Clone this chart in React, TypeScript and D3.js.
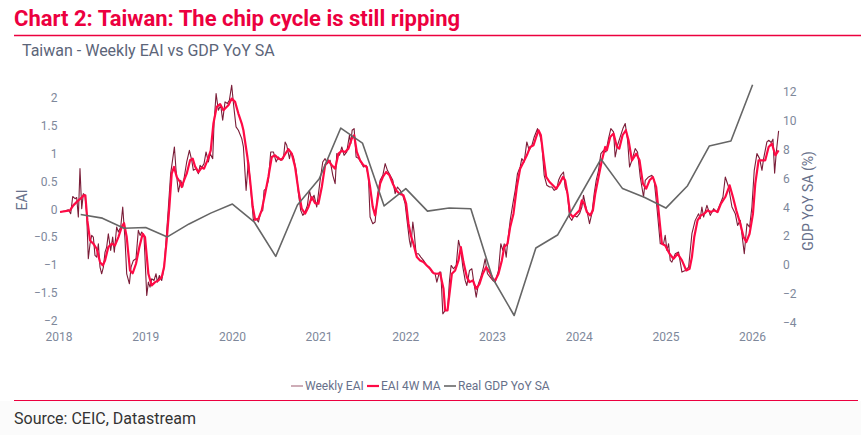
import React from "react";
import * as d3 from "d3";

// ---- Data ----
const weeklyDates = [
  2018.012, 2018.069, 2018.108, 2018.135, 2018.158, 2018.185, 2018.204, 2018.223, 2018.242, 2018.262,
  2018.281, 2018.3, 2018.319, 2018.338, 2018.358, 2018.377, 2018.396, 2018.415, 2018.435, 2018.454,
  2018.473, 2018.492, 2018.512, 2018.531, 2018.55, 2018.569, 2018.596, 2018.619, 2018.638, 2018.665,
  2018.685, 2018.712, 2018.735, 2018.762, 2018.781, 2018.812, 2018.831, 2018.858, 2018.888, 2018.915,
  2018.935, 2018.954, 2018.981, 2019.012, 2019.031, 2019.05, 2019.069, 2019.096, 2019.119, 2019.135,
  2019.158, 2019.185, 2019.212, 2019.235, 2019.262, 2019.288, 2019.331, 2019.35, 2019.377, 2019.404,
  2019.427, 2019.454, 2019.473, 2019.504, 2019.531, 2019.55, 2019.581, 2019.608, 2019.627, 2019.646,
  2019.673, 2019.696, 2019.723, 2019.742, 2019.773, 2019.788, 2019.812, 2019.838, 2019.865, 2019.888,
  2019.915, 2019.942, 2019.965, 2019.992, 2020.012, 2020.042, 2020.069, 2020.108, 2020.127, 2020.158,
  2020.185, 2020.204, 2020.242, 2020.273, 2020.3, 2020.327, 2020.35, 2020.365, 2020.388, 2020.415,
  2020.442, 2020.473, 2020.504, 2020.531, 2020.558, 2020.588, 2020.608, 2020.627, 2020.658, 2020.673,
  2020.704, 2020.735, 2020.762, 2020.788, 2020.812, 2020.838, 2020.865, 2020.888, 2020.915, 2020.942,
  2020.973, 2021.012, 2021.042, 2021.069, 2021.096, 2021.127, 2021.158, 2021.185, 2021.204, 2021.235,
  2021.262, 2021.288, 2021.319, 2021.35, 2021.365, 2021.381, 2021.404, 2021.427, 2021.458, 2021.481,
  2021.512, 2021.542, 2021.569, 2021.588, 2021.619, 2021.646, 2021.673, 2021.704, 2021.735, 2021.762,
  2021.788, 2021.819, 2021.85, 2021.877, 2021.904, 2021.935, 2021.965, 2021.992, 2022.019, 2022.042,
  2022.058, 2022.081, 2022.096, 2022.119, 2022.146, 2022.173, 2022.204, 2022.242, 2022.273, 2022.3,
  2022.338, 2022.358, 2022.388, 2022.404, 2022.427, 2022.454, 2022.481, 2022.504, 2022.523, 2022.55,
  2022.581, 2022.608, 2022.635, 2022.658, 2022.685, 2022.704, 2022.735, 2022.762, 2022.781, 2022.812,
  2022.838, 2022.865, 2022.896, 2022.915, 2022.942, 2022.973, 2023.004, 2023.031, 2023.069, 2023.096,
  2023.119, 2023.135, 2023.158, 2023.177, 2023.204, 2023.235, 2023.262, 2023.288, 2023.319, 2023.338,
  2023.365, 2023.396, 2023.423, 2023.454, 2023.481, 2023.504, 2023.519, 2023.542, 2023.569, 2023.596,
  2023.627, 2023.658, 2023.685, 2023.712, 2023.742, 2023.762, 2023.788, 2023.819, 2023.838, 2023.865,
  2023.888, 2023.915, 2023.942, 2023.973, 2024.004, 2024.031, 2024.05, 2024.069, 2024.096, 2024.119,
  2024.146, 2024.173, 2024.196, 2024.223, 2024.25, 2024.281, 2024.308, 2024.338, 2024.365, 2024.396,
  2024.415, 2024.442, 2024.473, 2024.504, 2024.531, 2024.558, 2024.581, 2024.608, 2024.646, 2024.673,
  2024.704, 2024.742, 2024.762, 2024.8, 2024.838, 2024.865, 2024.896, 2024.935, 2024.973, 2024.992,
  2025.012, 2025.031, 2025.05, 2025.069, 2025.108, 2025.146, 2025.185, 2025.223, 2025.262, 2025.3,
  2025.338, 2025.377, 2025.396, 2025.415, 2025.435, 2025.473, 2025.512, 2025.55, 2025.588, 2025.627,
  2025.658, 2025.685, 2025.723, 2025.762, 2025.8, 2025.827, 2025.858, 2025.904, 2025.935, 2025.965,
  2025.992, 2026.019, 2026.05, 2026.081, 2026.108, 2026.127, 2026.165, 2026.185, 2026.215, 2026.235,
  2026.254, 2026.273, 2026.3,
];
const weeklyValues = [
  -0.05, -0.03, -0.01, -0.08, 0.23, 0.19, 0.21, -0.14, 0.73, 0.01,
  0.28, 0.25, -0.08, -0.89, -0.62, -0.47, -0.5, -0.83, -0.86, -0.62,
  -1.04, -1.16, -1.04, -0.77, -0.68, -0.44, -0.74, -0.5, -0.77, -0.32,
  -0.41, -0.32, 0.04, -0.56, -1.16, -1.34, -1.04, -0.92, -0.89, -0.38,
  -0.47, -0.41, -0.5, -1.55, -1.31, -1.4, -1.25, -1.28, -1.16, -1.31,
  -1.19, -1.28, -1.04, -0.56, 0.04, 0.64, 1.12, 0.7, 0.31, 0.52,
  0.4, 0.67, 0.85, 1.06, 0.88, 0.7, 0.73, 0.64, 0.79, 0.75,
  0.82, 1.03, 0.85, 1.0, 0.91, 1.54, 2.08, 1.78, 1.87, 1.6,
  1.93, 1.9, 1.96, 2.23, 1.9, 1.48, 1.42, 1.27, 1.12, 0.34,
  0.88, 0.52, -0.2, -0.17, -0.23, -0.05, -0.02, 0.34, 0.37, 0.52,
  1.03, 1.03, 0.85, 0.94, 0.88, 0.91, 1.21, 1.15, 0.91, 1.03,
  0.94, 0.7, 0.28, -0.02, -0.11, -0.05, 0.07, 0.34, 0.16, 0.25,
  0.04, 0.52, 0.85, 0.91, 0.82, 0.88, 0.61, 0.46, 1.0, 0.97,
  1.12, 0.97, 1.03, 1.33, 1.18, 1.42, 1.45, 0.94, 0.91, 0.85,
  0.76, 0.79, 0.58, -0.14, -0.26, -0.23, 0.25, 0.52, 0.61, 0.82,
  0.7, 0.61, 0.52, 0.28, 0.4, 0.34, 0.25, 0.1, -0.26, -0.56,
  -0.68, -0.23, -0.41, -0.8, -0.8, -0.86, -0.92, -1.01, -1.04, -1.13,
  -1.16, -1.31, -1.13, -1.13, -1.88, -1.82, -1.82, -1.28, -1.01, -1.07,
  -1.01, -0.56, -0.74, -1.04, -1.28, -1.37, -1.1, -1.07, -1.28, -1.58,
  -1.34, -1.22, -1.04, -0.89, -1.16, -1.22, -1.28, -1.31, -1.1, -0.62,
  -0.74, -0.62, -0.86, -0.56, -0.2, 0.1, 0.34, 0.64, 0.76, 0.91,
  0.85, 1.21, 1.06, 1.15, 1.3, 1.39, 1.45, 1.36, 1.18, 0.61,
  0.43, 0.4, 0.4, 0.34, 0.37, 0.52, 0.61, 0.67, 0.4, 0.28,
  -0.14, -0.2, -0.11, -0.14, -0.08, 0.04, 0.25, 0.1, -0.08, -0.26,
  -0.08, 0.28, 0.52, 0.7, 1.0, 1.06, 1.03, 1.27, 1.45, 1.39,
  0.94, 1.15, 1.3, 1.45, 1.54, 1.24, 0.76, 0.88, 1.09, 1.03,
  0.58, 0.22, 0.52, 0.58, 0.61, 0.52, 0.04, -0.62, -0.62, -0.47,
  -0.74, -0.62, -0.92, -0.95, -0.8, -0.77, -1.13, -1.1, -1.04, -0.44,
  -0.2, -0.08, -0.17, 0.04, -0.14, 0.07, -0.11, 0.01, -0.05, 0.1,
  0.22, 0.58, 0.4, 0.04, -0.08, -0.29, -0.2, -0.8, -0.26, -0.32,
  0.04, 0.7, 1.0, 0.91, 0.7, 0.91, 1.21, 1.24, 1.2, 1.26,
  0.65, 1.02, 1.41,
];

const maDates = [
  2018.012, 2018.127, 2018.165, 2018.223, 2018.262, 2018.281, 2018.304, 2018.327, 2018.358, 2018.396,
  2018.435, 2018.473, 2018.504, 2018.531, 2018.569, 2018.608, 2018.646, 2018.685, 2018.723, 2018.75,
  2018.781, 2018.819, 2018.85, 2018.888, 2018.927, 2018.965, 2018.992, 2019.031, 2019.069, 2019.108,
  2019.146, 2019.185, 2019.212, 2019.242, 2019.273, 2019.3, 2019.327, 2019.358, 2019.396, 2019.415,
  2019.442, 2019.473, 2019.512, 2019.542, 2019.569, 2019.608, 2019.646, 2019.673, 2019.712, 2019.75,
  2019.781, 2019.819, 2019.858, 2019.896, 2019.927, 2019.954, 2019.992, 2020.031, 2020.069, 2020.108,
  2020.127, 2020.173, 2020.204, 2020.235, 2020.262, 2020.3, 2020.338, 2020.377, 2020.415, 2020.454,
  2020.492, 2020.531, 2020.569, 2020.608, 2020.646, 2020.685, 2020.723, 2020.762, 2020.8, 2020.838,
  2020.877, 2020.915, 2020.954, 2020.992, 2021.031, 2021.069, 2021.108, 2021.146, 2021.185, 2021.223,
  2021.262, 2021.3, 2021.338, 2021.377, 2021.404, 2021.435, 2021.473, 2021.512, 2021.55, 2021.588,
  2021.619, 2021.646, 2021.673, 2021.704, 2021.735, 2021.773, 2021.812, 2021.85, 2021.888, 2021.927,
  2021.973, 2022.004, 2022.031, 2022.058, 2022.088, 2022.127, 2022.165, 2022.204, 2022.242, 2022.281,
  2022.319, 2022.358, 2022.396, 2022.435, 2022.454, 2022.481, 2022.504, 2022.531, 2022.569, 2022.608,
  2022.635, 2022.665, 2022.704, 2022.735, 2022.773, 2022.812, 2022.85, 2022.888, 2022.927, 2022.965,
  2023.004, 2023.031, 2023.069, 2023.108, 2023.135, 2023.173, 2023.204, 2023.242, 2023.281, 2023.319,
  2023.358, 2023.396, 2023.435, 2023.473, 2023.504, 2023.531, 2023.558, 2023.588, 2023.619, 2023.658,
  2023.696, 2023.735, 2023.773, 2023.812, 2023.838, 2023.865, 2023.896, 2023.927, 2023.965, 2024.004,
  2024.031, 2024.058, 2024.088, 2024.127, 2024.158, 2024.185, 2024.223, 2024.262, 2024.3, 2024.319,
  2024.358, 2024.396, 2024.435, 2024.462, 2024.5, 2024.538, 2024.569, 2024.608, 2024.658, 2024.696,
  2024.735, 2024.773, 2024.812, 2024.85, 2024.888, 2024.915, 2024.954, 2024.992, 2025.042, 2025.088,
  2025.135, 2025.185, 2025.235, 2025.273, 2025.3, 2025.327, 2025.365, 2025.404, 2025.442, 2025.481,
  2025.519, 2025.558, 2025.596, 2025.635, 2025.685, 2025.735, 2025.773, 2025.812, 2025.858, 2025.896,
  2025.927, 2025.965, 2026.004, 2026.031, 2026.069, 2026.108, 2026.146, 2026.185, 2026.223, 2026.262,
  2026.3,
];
const maValues = [
  -0.05, -0.02, 0.07, 0.16, 0.21, 0.25, 0.25, -0.2, -0.56, -0.62,
  -0.71, -0.95, -1.01, -0.92, -0.68, -0.62, -0.65, -0.5, -0.32, -0.25,
  -0.5, -1.1, -1.15, -0.98, -0.68, -0.44, -0.5, -1.16, -1.37, -1.31,
  -1.28, -1.22, -1.04, -0.56, 0.04, 0.64, 0.76, 0.58, 0.49, 0.4,
  0.52, 0.64, 0.88, 0.91, 0.77, 0.67, 0.75, 0.73, 0.88, 1.06,
  1.54, 1.84, 1.89, 1.78, 1.83, 1.87, 1.99, 1.93, 1.72, 1.54,
  1.42, 0.94, 0.52, 0.04, -0.19, -0.17, -0.02, 0.28, 0.58, 0.94,
  0.97, 0.91, 0.89, 0.99, 1.08, 1.0, 0.76, 0.34, 0.01, -0.08,
  0.04, 0.22, 0.11, 0.1, 0.4, 0.79, 0.88, 0.79, 0.73, 1.0,
  1.05, 1.03, 1.09, 1.27, 1.33, 1.03, 0.88, 0.79, 0.76, 0.4,
  0.04, -0.11, 0.16, 0.46, 0.58, 0.67, 0.61, 0.46, 0.34, 0.28,
  0.25, 0.1, -0.26, -0.47, -0.62, -0.86, -0.92, -0.95, -1.01, -1.07,
  -1.15, -1.16, -1.15, -1.43, -1.82, -1.82, -1.52, -1.16, -1.1, -0.92,
  -0.68, -0.95, -1.22, -1.31, -1.28, -1.43, -1.34, -1.16, -1.04, -1.13,
  -1.25, -1.28, -1.16, -0.92, -0.68, -0.62, -0.32, -0.08, 0.4, 0.73,
  0.85, 0.97, 1.12, 1.15, 1.3, 1.42, 1.33, 0.94, 0.58, 0.49,
  0.43, 0.37, 0.46, 0.58, 0.52, 0.28, -0.08, -0.14, -0.08, -0.02,
  0.16, 0.1, -0.05, -0.11, -0.02, 0.28, 0.58, 0.88, 1.12, 1.06,
  1.3, 1.36, 1.12, 1.09, 1.33, 1.42, 1.24, 0.88, 1.0, 0.88,
  0.46, 0.37, 0.52, 0.58, 0.4, -0.02, -0.62, -0.65, -0.8, -0.89,
  -0.8, -0.92, -1.1, -1.07, -0.86, -0.5, -0.2, -0.11, -0.08, -0.02,
  -0.05, -0.02, -0.05, 0.1, 0.22, 0.43, 0.22, -0.02, -0.26, -0.5,
  -0.59, -0.44, -0.08, 0.46, 0.88, 0.88, 0.88, 1.12, 1.18, 0.97,
  1.06,
];

const gdpDates = [
  2018.25, 2018.5, 2018.75, 2019.0, 2019.25, 2019.5, 2019.75, 2020.0, 2020.25, 2020.5,
  2020.75, 2021.0, 2021.25, 2021.5, 2021.75, 2022.0, 2022.25, 2022.5, 2022.75, 2023.0,
  2023.25, 2023.5, 2023.75, 2024.0, 2024.25, 2024.5, 2024.75, 2025.0, 2025.25, 2025.5,
  2025.75, 2026.0,
];
const gdpValues = [
  3.5, 3.25, 2.55, 2.6, 1.95, 2.85, 3.6, 4.23, 3.0, 0.6,
  4.16, 5.96, 9.5, 8.46, 4.1, 5.3, 3.74, 3.95, 3.9, -0.9,
  -3.5, 1.18, 2.08, 4.7, 7.35, 5.3, 4.7, 3.95, 5.5, 8.25,
  8.6, 12.5,
];

const yearTicks = [2018, 2019, 2020, 2021, 2022, 2023, 2024, 2025, 2026];
const eaiTicks = [-2, -1.5, -1, -0.5, 0, 0.5, 1, 1.5, 2];
const gdpTicks = [-4, -2, 0, 2, 4, 6, 8, 10, 12];
const legendLabels = ["Weekly EAI", "EAI 4W MA", "Real GDP YoY SA"];

const titleText = "Chart 2: Taiwan: The chip cycle is still ripping";
const subtitleText = "Taiwan - Weekly EAI vs GDP YoY SA";
const sourceText = "Source: CEIC, Datastream";

// ---- Styles ----
const RED = "#ec003f";
const WEEKLY = "#7a1d38";
const MA = "#ff0a45";
const GDP = "#666666";
const TICK = "#7e889b";
const LABEL = "#67708a";
const FONT = "Roboto, 'Noto Sans', sans-serif";

export default function App() {
  const W = 861;
  const H = 435;
  const x = d3.scaleLinear().domain([2018, 2026]).range([59, 752.6]);
  const yL = d3.scaleLinear().domain([-2, 2]).range([320.5, 98]);
  const yR = d3.scaleLinear().domain([-4, 12]).range([322.7, 92]);

  const weekly = weeklyDates.map((d, i) => [d, weeklyValues[i]] as [number, number]);
  const ma = maDates.map((d, i) => [d, maValues[i]] as [number, number]);
  const gdp = gdpDates.map((d, i) => [d, gdpValues[i]] as [number, number]);

  const lineL = d3
    .line<[number, number]>()
    .x((d) => x(d[0]))
    .y((d) => yL(d[1]));
  const lineR = d3
    .line<[number, number]>()
    .x((d) => x(d[0]))
    .y((d) => yR(d[1]));

  const fmt = d3.format("~g");

  const legendX = [291, 367, 444];
  const legendColors = [WEEKLY, MA, GDP];
  const legendWidths = [1.2, 2.2, 1.6];
  const legendOpac = [0.6, 1, 1];

  return (
    <div style={{ position: "fixed", left: 0, top: 0, width: W, height: H, background: "#fff" }}>
      <svg width={W} height={H} style={{ display: "block" }} fontFamily={FONT}>
        <rect x={0} y={0} width={W} height={H} fill="#ffffff" />
        <rect x={0} y={401} width={W} height={34} fill="#fbfbfb" />
        <text x={14} y={25.5} fontSize={22} fontWeight={700} fill={RED}>
          {titleText}
        </text>
        <line x1={14} x2={W} y1={35.5} y2={35.5} stroke={RED} strokeWidth={1.6} />
        <text x={22} y={56} fontSize={16} fill="#5c6579">
          {subtitleText}
        </text>

        {/* x axis labels */}
        {yearTicks.map((t) => (
          <text key={"x" + t} x={x(t)} y={341} fontSize={12} fill={TICK} textAnchor="middle">
            {t}
          </text>
        ))}
        {/* left axis labels */}
        {eaiTicks.map((t) => (
          <text key={"l" + t} x={57.5} y={yL(t) + 4.3} fontSize={12} fill={TICK} textAnchor="end">
            {fmt(t)}
          </text>
        ))}
        {/* right axis labels */}
        {gdpTicks.map((t) => (
          <text key={"r" + t} x={783} y={yR(t) + 4.3} fontSize={12} fill={TICK} textAnchor="start">
            {fmt(t)}
          </text>
        ))}
        <text transform="translate(27,200) rotate(-90)" fontSize={14} fill={LABEL} textAnchor="middle">
          EAI
        </text>
        <text transform="translate(813,201) rotate(-90)" fontSize={14} fill={LABEL} textAnchor="middle">
          GDP YoY SA (%)
        </text>

        {/* series */}
        <path d={lineL(weekly) || ""} fill="none" stroke={WEEKLY} strokeWidth={1.1} strokeLinejoin="round" />
        <path d={lineL(ma) || ""} fill="none" stroke={MA} strokeWidth={2.2} strokeLinejoin="round" />
        <path d={lineR(gdp) || ""} fill="none" stroke={GDP} strokeWidth={1.6} strokeLinejoin="round" />

        {/* legend */}
        {legendLabels.map((lab, i) => (
          <g key={lab}>
            <line
              x1={legendX[i]}
              x2={legendX[i] + 12}
              y1={386}
              y2={386}
              stroke={legendColors[i]}
              strokeWidth={legendWidths[i]}
              strokeOpacity={legendOpac[i]}
            />
            <text x={legendX[i] + 14} y={390.3} fontSize={12} fill={LABEL}>
              {lab}
            </text>
          </g>
        ))}

        <line x1={14} x2={858} y1={400.5} y2={400.5} stroke={RED} strokeWidth={1.2} />
        <text x={14} y={423.5} fontSize={16} fill="#333333">
          {sourceText}
        </text>
      </svg>
    </div>
  );
}
